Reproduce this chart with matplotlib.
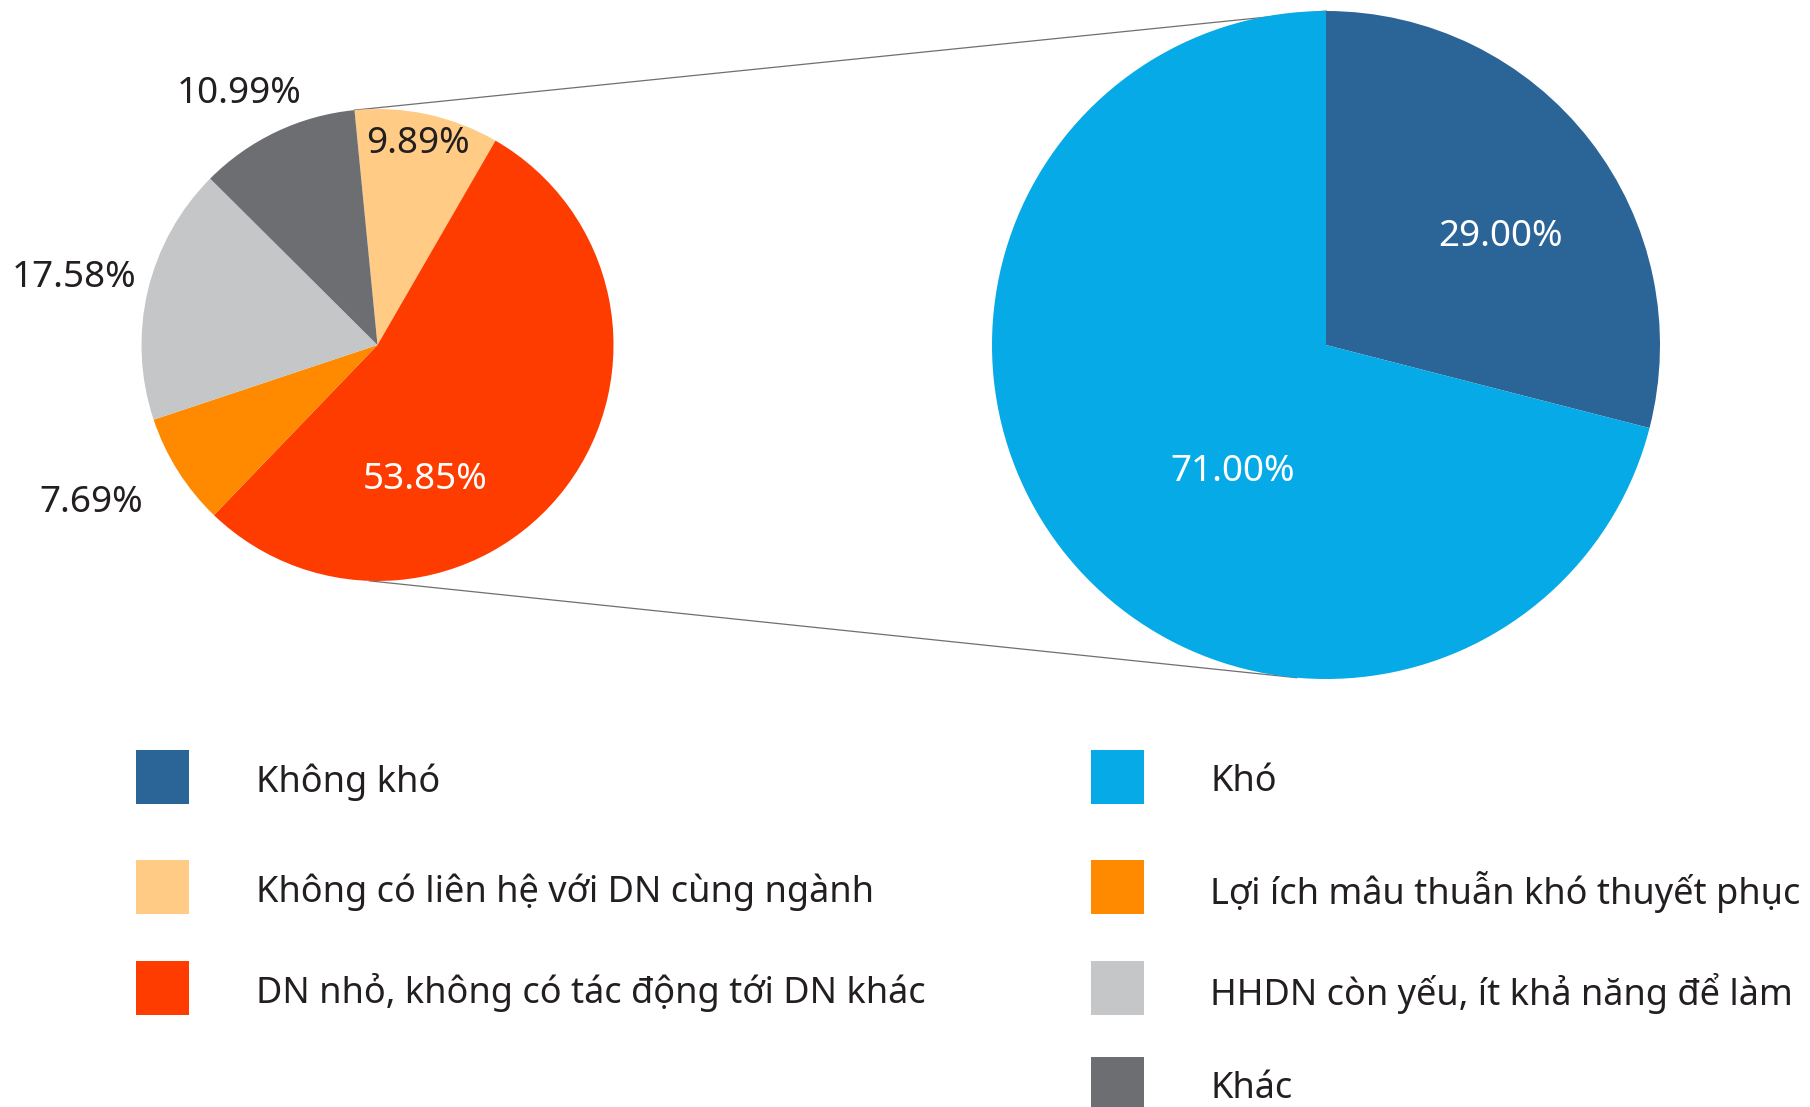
import numpy as np
import matplotlib.pyplot as plt
from matplotlib.patches import Rectangle

plt.rcParams['font.family'] = ['Noto Sans', 'DejaVu Sans']

# Lý do (pie nhỏ)
reason_labels = ["Không có liên hệ với DN cùng ngành",
                 "DN nhỏ, không có tác động tới DN khác",
                 "Lợi ích mâu thuẫn khó thuyết phục",
                 "HHDN còn yếu, ít khả năng để làm",
                 "Khác"]
reason_values = [9.89, 53.85, 7.69, 17.58, 10.99]
reason_colors = ["#FFCB85", "#FF3C00", "#FF8A00", "#C5C6C8", "#6D6E72"]

# Mức độ (pie lớn)
level_labels = ["Không khó", "Khó"]
level_values = [29.00, 71.00]
level_colors = ["#2B6497", "#05AAE6"]

TXT = "#231F20"
W, H = 1810, 1107

fig = plt.figure(figsize=(W / 100, H / 100), dpi=100)
ax = fig.add_axes([0, 0, 1, 1])

# geometry in pixel units (y up)
c1, r1 = (377.5, H - 345), 236
c2, r2 = (1326, H - 345), 334
start1 = 95.6

w1, _ = ax.pie(reason_values, colors=reason_colors, startangle=start1,
               counterclock=False, center=c1, radius=r1,
               wedgeprops=dict(linewidth=0))
w2, _ = ax.pie(level_values, colors=level_colors, startangle=90,
               counterclock=False, center=c2, radius=r2,
               wedgeprops=dict(linewidth=0))


def put_labels(wedges, values, center, radius, dist, shift, colors):
    for w, v, d, s, col in zip(wedges, values, dist, shift, colors):
        a = np.deg2rad((w.theta1 + w.theta2) / 2 + s)
        x = center[0] + d * radius * np.cos(a)
        y = center[1] + d * radius * np.sin(a) - 4
        ax.text(x, y, f"{v:.2f}%", ha="center", va="center",
                fontsize=26.5, color=col)


put_labels(w1, reason_values, c1, r1,
           [0.885, 0.59, 1.38, 1.32, 1.23], [1, -33, -4, 0, 3],
           [TXT, "white", TXT, TXT, TXT])
put_labels(w2, level_values, c2, r2,
           [0.62, 0.463], [-5, 15], ["white", "white"])


def on_circle(center, radius, deg):
    a = np.deg2rad(deg)
    return center[0] + radius * np.cos(a), center[1] + radius * np.sin(a)


# connector lines
for a1, a2 in [(start1, 90), (268, 265)]:
    p, q = on_circle(c1, r1, a1), on_circle(c2, r2, a2)
    ax.plot([p[0], q[0]], [p[1], q[1]], color="#6f6f6f", lw=0.9, zorder=0)

# legend (two columns)
left = [(level_labels[0], level_colors[0]),
        (reason_labels[0], reason_colors[0]),
        (reason_labels[1], reason_colors[1])]
right = [(level_labels[1], level_colors[1]),
         (reason_labels[2], reason_colors[2]),
         (reason_labels[3], reason_colors[3]),
         (reason_labels[4], reason_colors[4])]
row_y = [777, 887, 988, 1084]
for col, (sq_x, tx_x) in zip([left, right], [(136, 256), (1091, 1210)]):
    for (lab, colr), yc in zip(col, row_y):
        ax.add_patch(Rectangle((sq_x, H - yc - 27), 53, 54, color=colr,
                               lw=0, clip_on=False))
        ax.text(tx_x, H - yc - 5, lab, ha="left", va="center", fontsize=26,
                color=TXT)

ax.set_xlim(0, W)
ax.set_ylim(0, H)
ax.set_aspect("equal")
ax.axis("off")

fig.savefig("out.png", dpi=100)
